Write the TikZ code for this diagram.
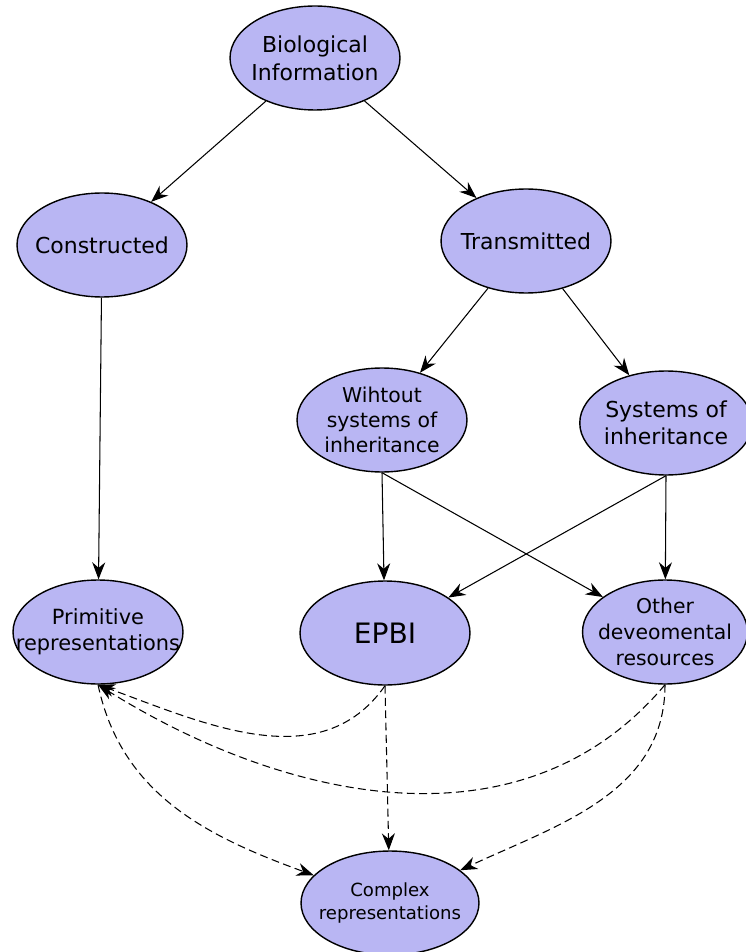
\documentclass[tikz,border=0pt]{standalone}
\usepackage{fontspec}
\setmainfont{DejaVu Sans}
\usetikzlibrary{shapes.geometric,arrows.meta}

\definecolor{lavender}{RGB}{185,182,243}

\tikzset{
  bubble/.style={ellipse,draw=black,thick,fill=lavender,
    minimum width=3.4cm,minimum height=2.08cm,inner sep=0pt},
  txt/.style={align=center,inner sep=0pt},
  link/.style={-{Stealth[length=3.4mm,width=2.6mm]},semithick},
  dlink/.style={link,dash pattern=on 4.5pt off 2.5pt}
}

\begin{document}
\begin{tikzpicture}[x=0.02cm,y=-0.02cm]
        
        \useasboundingbox (0,0) rectangle (746,952);
        
        % top levels
        \node[bubble,label={[txt,font=\fontsize{12.5}{16}\selectfont]center:Biological\\Information}] (bio) at (315,58) {};
        \node[bubble,label={[txt,font=\fontsize{12.5}{16}\selectfont]center:Constructed}] (constr) at (102,245) {};
        \node[bubble,label={[txt,font=\fontsize{12.5}{16}\selectfont]center:Transmitted}] (trans) at (526,241) {};
        
        \node[bubble,label={[txt,font=\fontsize{11.6}{14.2}\selectfont]center:Wihtout\\systems of\\inheritance}] (without) at (382,420) {};
        \node[bubble,minimum width=3.45cm,label={[txt,font=\fontsize{12.5}{15.6}\selectfont]center:Systems of\\inheritance}] (systems) at (666,423) {};
        
        % third row
        \node[bubble,label={[txt,font=\fontsize{11.9}{14.8}\selectfont]center:Primitive\\representations}] (prim) at (98,632) {};
        \node[bubble,label={[txt,font=\fontsize{16}{19}\selectfont]center:EPBI}] (epbi) at (385,633) {};
        \node[bubble,minimum width=3.3cm,label={[txt,font=\fontsize{11.6}{14.6}\selectfont]center:Other\\deveomental\\resources}] (other) at (665,632) {};
        
        \node[bubble,minimum width=3.56cm,label={[txt,font=\fontsize{10.3}{13}\selectfont]center:Complex\\representations}] (complex) at (390,903) {};
        
        % solid arrows
        \draw[link] (bio) -- (constr);
        \draw[link] (bio) -- (trans);
        \draw[link] (constr) -- (prim);
        \draw[link] (trans) -- (without);
        \draw[link] (trans) -- (systems);
        \draw[link] (without.south) -- (epbi);
        \draw[link] (without.south) -- (other);
        \draw[link] (systems.south) -- (epbi);
        \draw[link] (systems.south) -- (other);
        
        % dashed arrows
        \draw[dlink] (epbi.south) to[out=-125,in=-20] (prim.south);
        \draw[dlink] (other.south) to[out=-130,in=-32] (prim.south);
        \draw[dlink] (prim.south) to[out=-78,in=160] (complex);
        \draw[dlink] (epbi.south) -- (complex);
        \draw[dlink] (other.south) to[out=-90,in=25] (complex);
        
        \end{tikzpicture}
\end{document}
